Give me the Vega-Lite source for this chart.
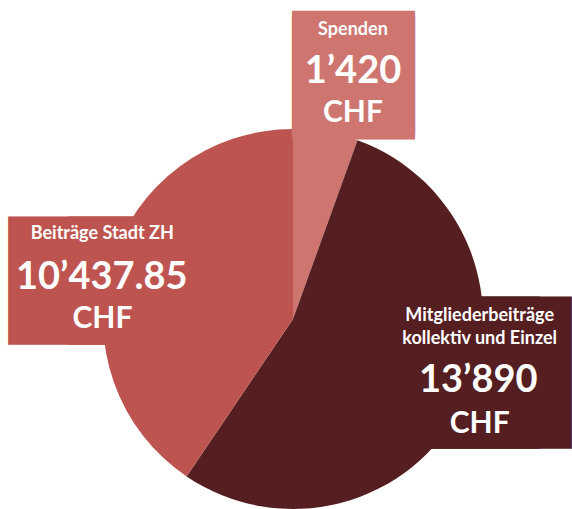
{
  "$schema": "https://vega.github.io/schema/vega-lite/v6.json",
  "width": 558,
  "height": 378,
  "autosize": {"type": "none"},
  "padding": {"left": 14, "top": 130, "right": 0, "bottom": 1},
  "background": "white",
  "config": {
    "view": {"stroke": null},
    "locale": {"number": {"decimal": ".", "thousands": "’", "grouping": [3], "currency": ["", ""]}}
  },
  "data": {
    "values": [
      {"cat": "Spenden", "key": "sp", "title": "Spenden", "value": 1420},
      {"cat": "Mitgliederbeiträge kollektiv und Einzel", "key": "mg", "title": "Mitgliederbeiträge\nkollektiv und Einzel", "value": 13890},
      {"cat": "Beiträge Stadt ZH", "key": "st", "title": "Beiträge Stadt ZH", "value": 10437.85}
    ]
  },
  "encoding": {
    "theta": {"field": "value", "type": "quantitative", "stack": true},
    "order": {"field": "cat", "sort": "descending"}
  },
  "layer": [
    {
      "mark": {"type": "arc", "radius": 190},
      "encoding": {
        "color": {
          "field": "cat", "type": "nominal", "legend": null,
          "scale": {"domain": ["Spenden", "Mitgliederbeiträge kollektiv und Einzel", "Beiträge Stadt ZH"], "range": ["#cd756e", "#551e21", "#be5450"]}
        }
      }
    },
    {
      "mark": {"type": "text", "text": "█", "font": "DejaVu Sans Mono", "fontSize": 1, "radius": 245, "dx": 18.2, "dy": -5.2, "align": "center", "baseline": "middle", "fill": "#cd756e", "stroke": "#cd756e", "strokeWidth": 122.4, "strokeJoin": "miter"},
      "encoding": {"opacity": {"condition": {"test": "datum.key === 'sp'", "value": 1}, "value": 0}}
    },
    {
      "mark": {"type": "text", "text": "█", "font": "DejaVu Sans Mono", "fontSize": 1, "radius": 245, "dx": 18.2, "dy": -0.2, "align": "center", "baseline": "middle", "fill": "#cd756e", "stroke": "#cd756e", "strokeWidth": 122.4, "strokeJoin": "miter"},
      "encoding": {"opacity": {"condition": {"test": "datum.key === 'sp'", "value": 1}, "value": 0}}
    },
    {
      "mark": {"type": "text", "text": "█", "font": "DejaVu Sans Mono", "fontSize": 1, "radius": 200, "dx": -29.8, "dy": 20.6, "align": "center", "baseline": "middle", "fill": "#be5450", "stroke": "#be5450", "strokeWidth": 127.2, "strokeJoin": "miter"},
      "encoding": {"opacity": {"condition": {"test": "datum.key === 'st'", "value": 1}, "value": 0}}
    },
    {
      "mark": {"type": "text", "text": "█", "font": "DejaVu Sans Mono", "fontSize": 1, "radius": 200, "dx": 30.2, "dy": 20.6, "align": "center", "baseline": "middle", "fill": "#be5450", "stroke": "#be5450", "strokeWidth": 127.2, "strokeJoin": "miter"},
      "encoding": {"opacity": {"condition": {"test": "datum.key === 'st'", "value": 1}, "value": 0}}
    },
    {
      "mark": {"type": "text", "text": "█", "font": "DejaVu Sans Mono", "fontSize": 1, "radius": 200, "dx": -7.3, "dy": -36.7, "align": "center", "baseline": "middle", "fill": "#551e21", "stroke": "#551e21", "strokeWidth": 151.2, "strokeJoin": "miter"},
      "encoding": {"opacity": {"condition": {"test": "datum.key === 'mg'", "value": 1}, "value": 0}}
    },
    {
      "mark": {"type": "text", "text": "█", "font": "DejaVu Sans Mono", "fontSize": 1, "radius": 200, "dx": 24.7, "dy": -36.7, "align": "center", "baseline": "middle", "fill": "#551e21", "stroke": "#551e21", "strokeWidth": 151.2, "strokeJoin": "miter"},
      "encoding": {"opacity": {"condition": {"test": "datum.key === 'mg'", "value": 1}, "value": 0}}
    },
    {
      "mark": {"type": "text", "font": "Lato", "fontWeight": "bold", "fontSize": 18, "radius": 245, "dx": 17.7, "dy": -42.7, "align": "center", "baseline": "alphabetic", "fill": "white"},
      "encoding": {"text": {"field": "title", "type": "nominal"}, "opacity": {"condition": {"test": "datum.key === 'sp'", "value": 1}, "value": 0}}
    },
    {
      "mark": {"type": "text", "font": "Lato", "fontWeight": "bold", "fontSize": 38, "radius": 245, "dx": 17.7, "dy": 5.6, "align": "center", "baseline": "alphabetic", "fill": "white"},
      "encoding": {"text": {"field": "value", "type": "quantitative", "format": ",.2~f"}, "opacity": {"condition": {"test": "datum.key === 'sp'", "value": 1}, "value": 0}}
    },
    {
      "mark": {"type": "text", "text": "CHF", "font": "Lato", "fontWeight": "bold", "fontSize": 30, "radius": 245, "dx": 17.7, "dy": 44.3, "align": "center", "baseline": "alphabetic", "fill": "white"},
      "encoding": {"opacity": {"condition": {"test": "datum.key === 'sp'", "value": 1}, "value": 0}}
    },
    {
      "mark": {"type": "text", "font": "Lato", "fontWeight": "bold", "fontSize": 18, "radius": 200, "dx": 0.5, "dy": -21.1, "align": "center", "baseline": "alphabetic", "fill": "white"},
      "encoding": {"text": {"field": "title", "type": "nominal"}, "opacity": {"condition": {"test": "datum.key === 'st'", "value": 1}, "value": 0}}
    },
    {
      "mark": {"type": "text", "font": "Lato", "fontWeight": "bold", "fontSize": 38, "radius": 200, "dx": 0, "dy": 28.9, "align": "center", "baseline": "alphabetic", "fill": "white"},
      "encoding": {"text": {"field": "value", "type": "quantitative", "format": ",.2~f"}, "opacity": {"condition": {"test": "datum.key === 'st'", "value": 1}, "value": 0}}
    },
    {
      "mark": {"type": "text", "text": "CHF", "font": "Lato", "fontWeight": "bold", "fontSize": 30, "radius": 200, "dx": 0.7, "dy": 67.9, "align": "center", "baseline": "alphabetic", "fill": "white"},
      "encoding": {"opacity": {"condition": {"test": "datum.key === 'st'", "value": 1}, "value": 0}}
    },
    {
      "mark": {"type": "text", "font": "Lato", "fontWeight": "bold", "fontSize": 18, "lineHeight": 23.3, "lineBreak": "\n", "radius": 200, "dx": 8.4, "dy": -89, "align": "center", "baseline": "alphabetic", "fill": "white"},
      "encoding": {"text": {"field": "title", "type": "nominal"}, "opacity": {"condition": {"test": "datum.key === 'mg'", "value": 1}, "value": 0}}
    },
    {
      "mark": {"type": "text", "font": "Lato", "fontWeight": "bold", "fontSize": 38, "radius": 200, "dx": 7, "dy": -18, "align": "center", "baseline": "alphabetic", "fill": "white"},
      "encoding": {"text": {"field": "value", "type": "quantitative", "format": ",.2~f"}, "opacity": {"condition": {"test": "datum.key === 'mg'", "value": 1}, "value": 0}}
    },
    {
      "mark": {"type": "text", "text": "CHF", "font": "Lato", "fontWeight": "bold", "fontSize": 30, "radius": 200, "dx": 8.4, "dy": 23, "align": "center", "baseline": "alphabetic", "fill": "white"},
      "encoding": {"opacity": {"condition": {"test": "datum.key === 'mg'", "value": 1}, "value": 0}}
    }
  ]
}
